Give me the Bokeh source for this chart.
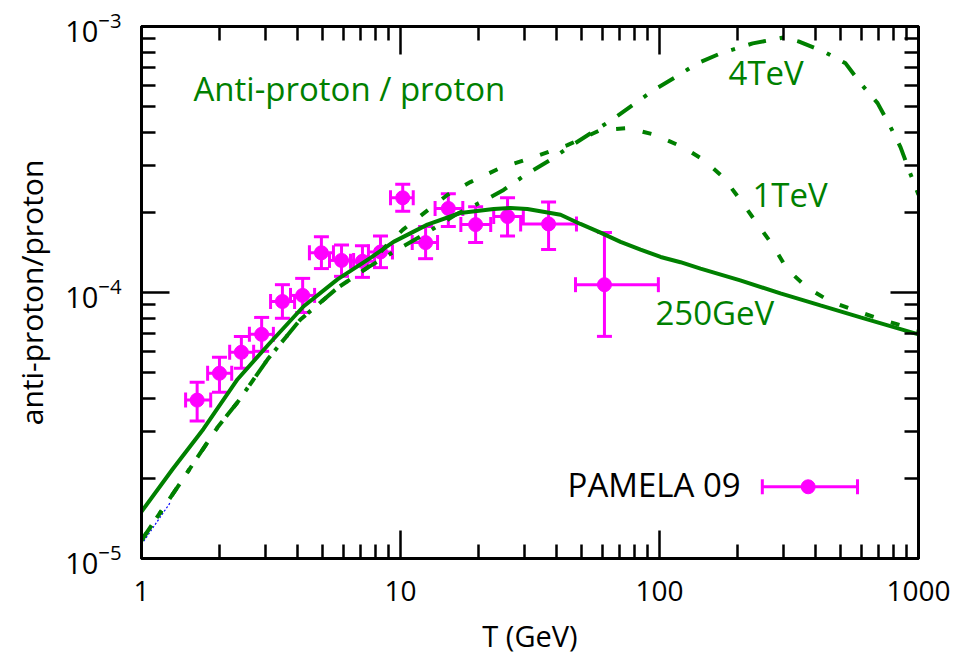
import numpy as np
from bokeh.plotting import figure
from bokeh.models import (LogAxis, FixedTicker, Label, Whisker, TeeHead,
                          ColumnDataSource, Range1d, PrintfTickFormatter)
from bokeh.embed import file_html
from bokeh.resources import INLINE

# ---------------- data ----------------
# PAMELA 09 antiproton/proton ratio
pam_T    = [1.64, 2.00, 2.43, 2.91, 3.50, 4.19, 4.95, 5.92, 7.13, 8.37, 10.2, 12.5, 15.3, 19.5, 25.9, 37.3, 61.3]
pam_T_lo = [1.48, 1.80, 2.19, 2.61, 3.15, 3.76, 4.45, 5.32, 6.41, 7.52, 9.15, 11.1, 13.6, 17.1, 22.9, 29.1, 47.4]
pam_T_hi = [1.85, 2.23, 2.71, 3.23, 3.90, 4.66, 5.51, 6.59, 7.94, 9.31, 11.2, 13.9, 17.4, 22.3, 29.8, 47.8, 99.0]
pam_r    = [3.94e-5, 4.97e-5, 5.96e-5, 6.96e-5, 9.25e-5, 9.75e-5, 1.41e-4, 1.32e-4, 1.31e-4,
            1.42e-4, 2.27e-4, 1.54e-4, 2.07e-4, 1.80e-4, 1.93e-4, 1.81e-4, 1.07e-4]
pam_r_lo = [3.29e-5, 4.22e-5, 5.19e-5, 6.01e-5, 8.00e-5, 8.41e-5, 1.23e-4, 1.15e-4, 1.14e-4,
            1.24e-4, 2.02e-4, 1.34e-4, 1.77e-4, 1.54e-4, 1.63e-4, 1.45e-4, 6.84e-5]
pam_r_hi = [4.60e-5, 5.71e-5, 6.84e-5, 8.06e-5, 1.07e-4, 1.13e-4, 1.62e-4, 1.51e-4, 1.50e-4,
            1.63e-4, 2.55e-4, 1.77e-4, 2.35e-4, 2.10e-4, 2.27e-4, 2.19e-4, 1.68e-4]

# model curve: 250 GeV (solid)
m250_T = [1.00, 1.32, 1.735, 2.35, 3.15, 4.22, 5.71, 7.66, 9.40, 12.7, 17.0, 22.9, 26.6, 30.9,
          41.5, 49.5, 59.2, 70.7, 84.5, 101, 120.5, 144, 205, 293, 418, 597, 1000]
m250_r = [1.50e-5, 2.17e-5, 3.07e-5, 4.72e-5, 6.50e-5, 8.86e-5, 1.12e-4, 1.35e-4, 1.55e-4, 1.80e-4,
          1.99e-4, 2.06e-4, 2.08e-4, 2.06e-4, 1.96e-4, 1.81e-4, 1.68e-4, 1.55e-4, 1.45e-4, 1.36e-4,
          1.30e-4, 1.23e-4, 1.11e-4, 9.92e-5, 8.94e-5, 8.06e-5, 6.96e-5]

# model curve: 1 TeV (dashed)
m1t_T = [1.00, 1.415, 1.97, 2.35, 3.07, 4.11, 5.71, 7.46, 8.75, 10.2, 12.5, 15.2, 18.6, 24.3, 31.8,
         44.1, 59.2, 75.9, 96.5, 123, 148, 177, 205, 235, 273, 312, 373, 457, 582, 733, 1000]
m1t_r = [1.17e-5, 1.93e-5, 3.12e-5, 3.87e-5, 5.61e-5, 7.92e-5, 1.04e-4, 1.24e-4, 1.49e-4, 1.72e-4,
         2.01e-4, 2.33e-4, 2.60e-4, 2.94e-4, 3.20e-4, 3.58e-4, 4.08e-4, 4.15e-4, 3.91e-4, 3.52e-4,
         3.15e-4, 2.70e-4, 2.23e-4, 1.85e-4, 1.51e-4, 1.22e-4, 1.04e-4, 9.25e-5, 8.49e-5, 7.86e-5, 7.21e-5]

# model curve: 4 TeV (dash-dot)
m4t_T = [1.00, 1.415, 1.97, 2.35, 3.07, 4.11, 5.71, 7.46, 9.74, 12.3, 16.3, 21.3, 25.0, 30.4, 37.9,
         44.1, 65.3, 78.7, 94.8, 115, 140, 172, 229, 276, 301, 344, 430, 523, 597, 695, 773, 852, 931, 1000]
m4t_r = [1.17e-5, 1.93e-5, 3.12e-5, 3.87e-5, 5.61e-5, 7.92e-5, 1.04e-4, 1.24e-4, 1.45e-4, 1.65e-4,
         1.96e-4, 2.23e-4, 2.43e-4, 2.77e-4, 3.15e-4, 3.49e-4, 4.45e-4, 5.06e-4, 5.76e-4, 6.44e-4,
         7.27e-4, 7.92e-4, 8.64e-4, 8.94e-4, 9.09e-4, 8.79e-4, 8.06e-4, 7.27e-4, 6.12e-4, 5.15e-4,
         4.26e-4, 3.52e-4, 2.79e-4, 2.33e-4]

# thin blue dotted curve (mostly hidden)
bkg_T = [1.00, 1.29]
bkg_r = [1.13e-5, 1.62e-5]

x_major = [1, 10, 100, 1000]
x_minor = [m * 10 ** e for e in range(0, 3) for m in range(2, 10)]
y_major = [1e-5, 1e-4, 1e-3]
y_minor = [m * 10.0 ** e for e in (-5, -4) for m in range(2, 10)]

# ---------------- styling ----------------
GREEN = "#008000"
MAGENTA = "#ff00ff"
FONT = "Open Sans"

X0, X1 = 1, 1000
Y0, Y1 = 1e-5, 1e-3


def fx(f):  # fraction of frame width -> data x (log axis)
    return 10 ** (np.log10(X0) + f * (np.log10(X1) - np.log10(X0)))


def fy(f):  # fraction of frame height -> data y (log axis)
    return 10 ** (np.log10(Y0) + f * (np.log10(Y1) - np.log10(Y0)))


p = figure(width=968, height=657, x_axis_type="log", y_axis_type="log",
           x_range=Range1d(X0, X1), y_range=Range1d(Y0, Y1),
           output_backend="svg", toolbar_location=None,
           min_border_left=141, min_border_right=50, min_border_top=26, min_border_bottom=97)
p.grid.visible = False
p.outline_line_color = "black"
p.outline_line_width = 3
p.background_fill_color = "white"
p.border_fill_color = "white"

bottom = p.below[0]
left = p.left[0]
top = LogAxis()
right = LogAxis()
p.add_layout(top, "above")
p.add_layout(right, "right")

for ax, maj, mn in [(bottom, x_major, x_minor), (top, x_major, x_minor),
                    (left, y_major, y_minor), (right, y_major, y_minor)]:
    ax.ticker = FixedTicker(ticks=maj, minor_ticks=mn)
    ax.major_tick_in = 28
    ax.major_tick_out = 0
    ax.minor_tick_in = 14
    ax.minor_tick_out = 0
    ax.major_tick_line_width = 2.5
    ax.minor_tick_line_width = 2.5
    ax.major_tick_line_color = "black"
    ax.minor_tick_line_color = "black"
    ax.axis_line_width = 3
    ax.axis_line_color = "black"
    ax.major_label_text_font = FONT
    ax.major_label_text_font_size = "28px"
    ax.major_label_text_color = "black"
    ax.axis_label_text_font = FONT
    ax.axis_label_text_font_style = "normal"
    ax.axis_label_text_font_size = "29px"
    ax.axis_label_text_color = "black"

left.major_label_text_font_size = "29px"
left.axis_label_text_font_size = "30px"

for ax in (top, right):
    ax.major_label_text_font_size = "1px"
    ax.major_label_text_alpha = 0
    ax.major_label_standoff = 0

bottom.formatter = PrintfTickFormatter(format="%d")
bottom.major_label_standoff = 22
bottom.axis_label = "T (GeV)"
bottom.axis_label_standoff = 12
left.major_label_standoff = 20
left.axis_label = "anti-proton/proton"
left.axis_label_standoff = 10

# ---------------- data marks ----------------
src = ColumnDataSource(dict(T=pam_T, Tlo=pam_T_lo, Thi=pam_T_hi, r=pam_r, rlo=pam_r_lo, rhi=pam_r_hi))


def tee():
    return TeeHead(size=15, line_color=MAGENTA, line_width=3)


p.add_layout(Whisker(source=src, base="T", lower="rlo", upper="rhi", dimension="height",
                     line_color=MAGENTA, line_width=3, upper_head=tee(), lower_head=tee()))
p.add_layout(Whisker(source=src, base="r", lower="Tlo", upper="Thi", dimension="width",
                     line_color=MAGENTA, line_width=3, upper_head=tee(), lower_head=tee()))
p.scatter("T", "r", source=src, size=14, marker="circle", fill_color=MAGENTA, line_color=MAGENTA)

p.line(bkg_T, bkg_r, line_color="blue", line_width=1.2, line_dash="2 2")
p.line(m4t_T, m4t_r, line_color=GREEN, line_width=4, line_dash="18 14 4 14")
p.line(m1t_T, m1t_r, line_color=GREEN, line_width=4, line_dash="9 18")
p.line(m250_T, m250_r, line_color=GREEN, line_width=4)

# ---------------- texts ----------------
def lab(text, f_x, f_y, color):
    p.add_layout(Label(x=fx(f_x), y=fy(f_y), text=text, text_font=FONT, text_font_size="33px",
                       text_color=color, text_baseline="middle", text_align="left"))


lab("Anti-proton / proton", 0.0669, 0.884, GREEN)
lab("4TeV", 0.7555, 0.9139, GREEN)
lab("1TeV", 0.7863, 0.6835, GREEN)
lab("250GeV", 0.6615, 0.4616, GREEN)
lab("PAMELA 09", 0.5483, 0.1386, "black")

# legend key (placed in frame-fraction coordinates)
kx0, kx1, kxc, ky = fx(0.799), fx(0.9215), fx(0.858), fy(0.1348)
p.segment(x0=[kx0], y0=[ky], x1=[kx1], y1=[ky], line_color=MAGENTA, line_width=3)
p.scatter(x=[kx0, kx1], y=[ky, ky], marker="dash", angle=np.pi / 2, size=15,
          line_color=MAGENTA, line_width=3)
p.scatter(x=[kxc], y=[ky], marker="circle", size=14, fill_color=MAGENTA, line_color=MAGENTA)

open("out.html", "w").write(file_html(p, INLINE))
